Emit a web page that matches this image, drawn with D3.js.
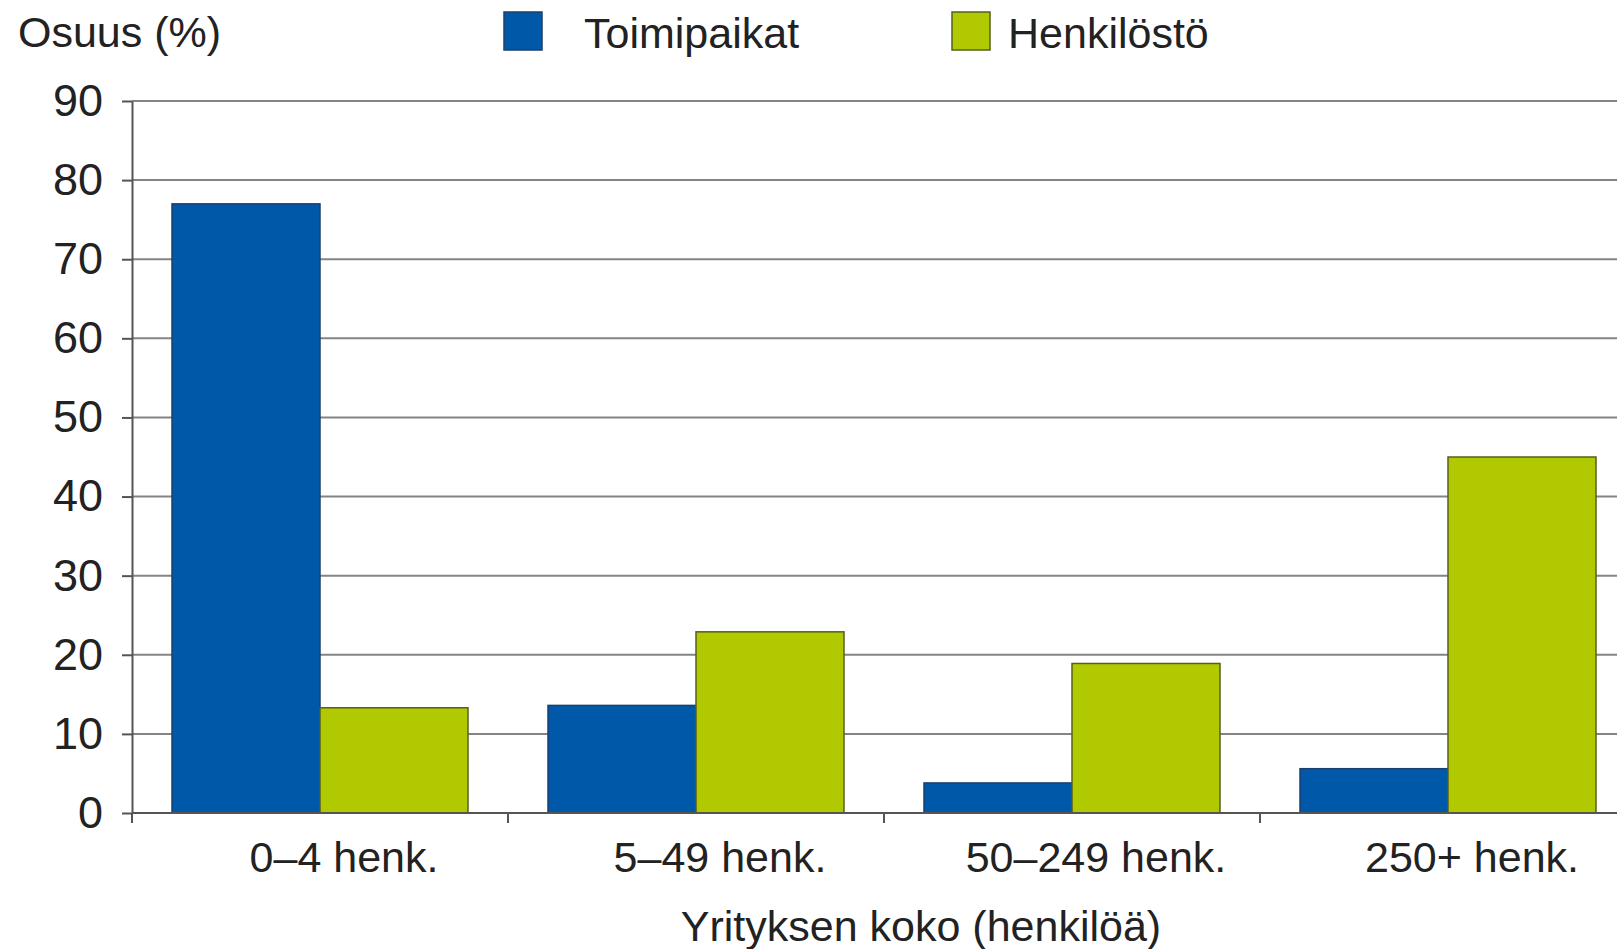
<!DOCTYPE html>
<html>
<head>
<meta charset="utf-8">
<script src="https://cdn.jsdelivr.net/npm/d3@7"></script>
<style>
  body { margin: 0; background: #fff; }
  svg text { font-family: "Liberation Sans", Arial, sans-serif; fill: #222; }
</style>
</head>
<body>
<svg id="chart"></svg>
<script>
// data
var categories = ["0\u20134 henk.", "5\u201349 henk.", "50\u2013249 henk.", "250+ henk."];
var toimipaikat = [77, 13.6, 3.8, 5.6];
var henkilosto = [13.3, 22.9, 18.9, 45];
var seriesNames = ["Toimipaikat", "Henkil\u00f6st\u00f6"];
var yTicks = [0, 10, 20, 30, 40, 50, 60, 70, 80, 90];

var width = 1617, height = 949;
var plotLeft = 132, plotRight = 1636, plotTop = 101, plotBottom = 813;
var colors = ["#0058a8", "#b1c900"];
var strokes = ["#1d3f6e", "#55601c"];

var svg = d3.select("#chart")
    .attr("width", width)
    .attr("height", height);

var x = d3.scaleBand()
    .domain(categories)
    .range([plotLeft, plotRight])
    .paddingInner(0.2128)
    .paddingOuter(0.1064);

var xs = d3.scaleBand()
    .domain(seriesNames)
    .range([0, x.bandwidth()]);

var y = d3.scaleLinear()
    .domain([0, 90])
    .range([plotBottom, plotTop]);

// gridlines
svg.append("g")
    .selectAll("line")
    .data(yTicks.filter(function (d) { return d > 0; }))
    .join("line")
    .attr("x1", plotLeft)
    .attr("x2", width)
    .attr("y1", function (d) { return y(d); })
    .attr("y2", function (d) { return y(d); })
    .attr("stroke", "#848484")
    .attr("stroke-width", 2);

// bars
var rows = categories.map(function (c, i) {
    return { cat: c, vals: [toimipaikat[i], henkilosto[i]] };
});

var groups = svg.append("g")
    .selectAll("g")
    .data(rows)
    .join("g")
    .attr("transform", function (d) { return "translate(" + x(d.cat) + ",0)"; });

groups.selectAll("rect")
    .data(function (d) {
        return d.vals.map(function (v, j) { return { name: seriesNames[j], v: v, j: j }; });
    })
    .join("rect")
    .attr("x", function (d) { return xs(d.name); })
    .attr("width", xs.bandwidth())
    .attr("y", function (d) { return y(d.v); })
    .attr("height", function (d) { return plotBottom - y(d.v); })
    .attr("fill", function (d) { return colors[d.j]; })
    .attr("stroke", function (d) { return strokes[d.j]; })
    .attr("stroke-width", 1.5);

// y axis
var yAxis = svg.append("g")
    .attr("transform", "translate(" + plotLeft + ",0)")
    .call(d3.axisLeft(y).tickValues(yTicks).tickSize(10).tickPadding(19).tickSizeOuter(0));
yAxis.select(".domain").attr("stroke", "#555").attr("stroke-width", 2);
yAxis.selectAll(".tick line").attr("stroke", "#555").attr("stroke-width", 2);
yAxis.selectAll(".tick text")
    .attr("font-size", 45)
    .attr("fill", "#222")
    .style("font-family", "Liberation Sans, Arial, sans-serif");

// x axis line with ticks between categories
var step = x.step();
var boundaries = d3.range(categories.length).map(function (i) { return plotLeft + i * step; });
svg.append("line")
    .attr("x1", plotLeft).attr("x2", width)
    .attr("y1", plotBottom).attr("y2", plotBottom)
    .attr("stroke", "#555").attr("stroke-width", 2);
svg.append("g")
    .selectAll("line")
    .data(boundaries)
    .join("line")
    .attr("x1", function (d) { return d; })
    .attr("x2", function (d) { return d; })
    .attr("y1", plotBottom)
    .attr("y2", plotBottom + 10)
    .attr("stroke", "#555")
    .attr("stroke-width", 2);

// category labels
svg.append("g")
    .selectAll("text")
    .data(categories)
    .join("text")
    .attr("x", function (d) { return x(d) + x.bandwidth() / 2 + 24; })
    .attr("y", 872)
    .attr("text-anchor", "middle")
    .attr("font-size", 43)
    .text(function (d) { return d; });

// axis titles
svg.append("text")
    .attr("x", 18)
    .attr("y", 47)
    .attr("font-size", 43)
    .text("Osuus (%)");

svg.append("text")
    .attr("x", 921)
    .attr("y", 941)
    .attr("text-anchor", "middle")
    .attr("font-size", 43)
    .text("Yrityksen koko (henkil\u00f6\u00e4)");

// legend
var legendX = [504, 952];
var legendTextX = [584, 1008];
var legend = svg.append("g");
seriesNames.forEach(function (name, i) {
    legend.append("rect")
        .attr("x", legendX[i])
        .attr("y", 12)
        .attr("width", 38)
        .attr("height", 38)
        .attr("fill", colors[i])
        .attr("stroke", strokes[i])
        .attr("stroke-width", 1.5);
    legend.append("text")
        .attr("x", legendTextX[i])
        .attr("y", 48)
        .attr("font-size", 43)
        .text(name);
});
</script>
</body>
</html>
